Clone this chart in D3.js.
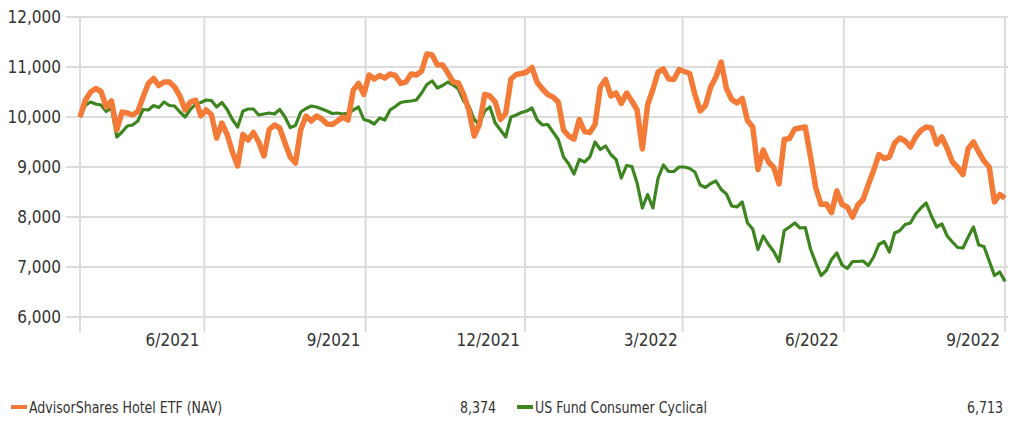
<!DOCTYPE html>
<html lang="en">
    <head>
        <meta charset="utf-8">
        <title>Hotel ETF vs Consumer Cyclical</title>
        <script src="https://d3js.org/d3.v7.min.js"></script>
        <style type="text/css">
            body{
              margin: 0;
              background: #fff;
            }
            svg{
              display: block;
              font-family: "DejaVu Sans Condensed", "Liberation Sans Narrow", sans-serif;
            }
            .grid line{
              stroke: #dcdcdc;
              stroke-width: 2px;
            }
            .tick-label{
              fill: #333;
              font-size: 17px;
            }
            .legend text{
              fill: #333;
              font-size: 16px;
            }
        </style>
    </head>
    <body>
        <script type="text/javascript">

        const w = 1011;
        const h = 422;

        // values sampled every 3 days, starting 2021-03-22
        const startDate = new Date(2021, 2, 22);
        const stepDays = 3;

        const hotelValues = [
          10000, 10330, 10500, 10570, 10510, 10200, 10320, 9740, 10100, 10080,
          10040, 10110, 10400, 10670, 10770, 10630, 10700, 10700, 10600, 10420,
          10140, 10300, 10340, 10020, 10140, 10050, 9580, 9880, 9650, 9300,
          9020, 9650, 9540, 9690, 9500, 9220, 9750, 9840, 9780, 9480,
          9200, 9080, 9750, 10020, 9920, 10020, 9960, 9860, 9850, 9920,
          10000, 9940, 10540, 10670, 10450, 10840, 10760, 10830, 10780, 10860,
          10830, 10673, 10700, 10860, 10840, 10920, 11260, 11240, 11040, 11040,
          10880, 10700, 10680, 10450, 10130, 9620, 9850, 10450, 10420, 10300,
          9950, 10070, 10760, 10850, 10870, 10900, 10990, 10690, 10560, 10450,
          10400, 10300, 9740, 9620, 9560, 9950, 9710, 9690, 9850, 10600,
          10750, 10420, 10480, 10270, 10480, 10320, 10140, 9360, 10240, 10550,
          10900, 10960, 10760, 10750, 10950, 10910, 10870, 10450, 10120, 10230,
          10600, 10800, 11100, 10570, 10350, 10280, 10370, 9930, 9800, 8950,
          9340, 9100, 8990, 8660, 9550, 9570, 9760, 9780, 9800, 9200,
          8580, 8250, 8260, 8090, 8520, 8250, 8200, 8000, 8240, 8350,
          8650, 8930, 9250, 9170, 9200, 9480, 9580, 9520, 9400, 9600,
          9730, 9800, 9780, 9460, 9600, 9370, 9100, 8990, 8850, 9370,
          9500, 9300, 9120, 9000, 8300, 8450, 8374
        ];

        const cyclicalValues = [
          10000, 10230, 10300, 10260, 10240, 10110, 10180, 9600, 9700, 9820,
          9840, 9920, 10150, 10140, 10230, 10190, 10300, 10230, 10220, 10100,
          10000, 10150, 10260, 10290, 10340, 10330, 10200, 10290, 10150, 9950,
          9800, 10120, 10160, 10160, 10040, 10060, 10080, 10060, 10150, 10000,
          9790, 9830, 10100, 10170, 10220, 10200, 10160, 10120, 10070, 10080,
          10060, 10080, 10140, 10200, 9950, 9920, 9860, 9980, 9940, 10140,
          10210, 10290, 10310, 10320, 10340, 10480, 10650, 10720, 10580, 10630,
          10700, 10640, 10560, 10320, 10220, 9950, 9850, 10120, 10200, 9880,
          9740, 9600, 10000, 10040, 10090, 10120, 10180, 9940, 9840, 9850,
          9700, 9550, 9200, 9060, 8860, 9150, 9100, 9200, 9500, 9350,
          9420, 9250, 9150, 8780, 9030, 9010, 8680, 8180, 8450, 8180,
          8780, 9040, 8910, 8910, 9000, 9000, 8970, 8900, 8640, 8590,
          8670, 8720, 8550, 8460, 8220, 8200, 8300, 7880, 7760, 7350,
          7620, 7450, 7310, 7110, 7730, 7800, 7880, 7780, 7790, 7360,
          7080, 6830, 6930, 7150, 7280, 7040, 6970, 7110, 7110, 7120,
          7030, 7200, 7450, 7510, 7300, 7680, 7730, 7850, 7880, 8060,
          8180, 8280, 8020, 7800, 7860, 7620, 7500, 7390, 7380, 7600,
          7800, 7440, 7410, 7120, 6830, 6900, 6713
        ];

        const yTicks = [6000, 7000, 8000, 9000, 10000, 11000, 12000];
        const xTicks = ["2021-06-01", "2021-09-01", "2021-12-01", "2022-03-01", "2022-06-01", "2022-09-01"];
        const xTickLabels = ["6/2021", "9/2021", "12/2021", "3/2022", "6/2022", "9/2022"];

        const seriesNames = ["AdvisorShares Hotel ETF (NAV)", "US Fund Consumer Cyclical"];
        const seriesLast = ["8,374", "6,713"];
        const seriesColors = ["#f47b37", "#3d851f"];

        const toSeries = vals => vals.map((v, i) => ({date: d3.timeDay.offset(startDate, i * stepDays), val: v}));
        const series = [toSeries(hotelValues), toSeries(cyclicalValues)];

        const x = d3.scaleTime()
                    .domain([startDate, d3.timeDay.offset(startDate, (hotelValues.length - 1) * stepDays)])
                    .range([80, 1005]);

        const y = d3.scaleLinear()
                    .domain([6000, 12000])
                    .range([317, 17]);

        const svg = d3.select("body").append("svg")
                      .attr("width", w)
                      .attr("height", h);

        // horizontal grid
        const grid = svg.append("g").attr("class", "grid");
        grid.selectAll(".hline")
            .data(yTicks)
            .enter()
            .append("line")
            .attr("x1", 66)
            .attr("x2", 1008)
            .attr("y1", d => y(d))
            .attr("y2", d => y(d));

        // vertical grid + left axis line
        const parse = d3.timeParse("%Y-%m-%d");
        grid.selectAll(".vline")
            .data([startDate].concat(xTicks.map(parse)))
            .enter()
            .append("line")
            .attr("x1", d => x(d))
            .attr("x2", d => x(d))
            .attr("y1", 17)
            .attr("y2", 332);

        svg.selectAll(".ylab")
           .data(yTicks)
           .enter()
           .append("text")
           .attr("class", "tick-label")
           .attr("x", 61)
           .attr("y", d => y(d) + 6)
           .attr("text-anchor", "end")
           .text(d => d3.format(",")(d));

        svg.selectAll(".xlab")
           .data(xTicks)
           .enter()
           .append("text")
           .attr("class", "tick-label")
           .attr("x", d => x(parse(d)) - 5)
           .attr("y", 346)
           .attr("text-anchor", "end")
           .text((d, i) => xTickLabels[i]);

        const line = d3.line()
                       .x(d => x(d.date))
                       .y(d => y(d.val));

        // hotel drawn on top of the cyclical line
        const widths = [5.5, 3.2];
        [1, 0].forEach(k => {
          svg.append("path")
             .datum(series[k])
             .attr("fill", "none")
             .attr("stroke", seriesColors[k])
             .attr("stroke-width", widths[k])
             .attr("stroke-linejoin", "round")
             .attr("d", line);
        });

        // legend (text squeezed a bit to look like the narrow original font)
        const legend = svg.append("g").attr("class", "legend");
        const legX = [11, 517];
        const legEnd = [496, 1003];
        const squeeze = 0.875;
        seriesNames.forEach((name, i) => {
          legend.append("rect")
                .attr("x", legX[i])
                .attr("y", 405)
                .attr("width", 16)
                .attr("height", 4)
                .attr("fill", seriesColors[i]);
          legend.append("text")
                .attr("transform", `translate(${legX[i] + 18},413) scale(${squeeze},1)`)
                .text(name);
          legend.append("text")
                .attr("transform", `translate(${legEnd[i]},413) scale(${squeeze},1)`)
                .attr("text-anchor", "end")
                .text(seriesLast[i]);
        });

        </script>
    </body>
</html>
